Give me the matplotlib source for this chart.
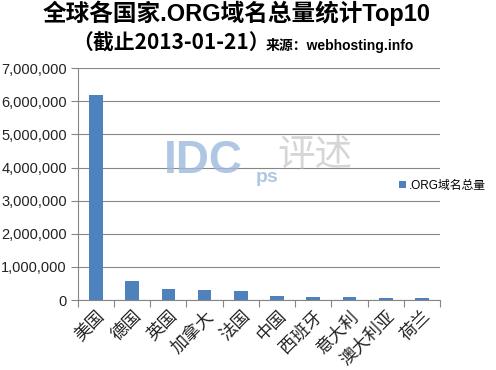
import matplotlib.pyplot as plt
from matplotlib.ticker import FuncFormatter

plt.rcParams['font.family'] = ['Liberation Sans', 'Noto Sans CJK SC', 'DejaVu Sans']

# Data
countries = ["美国", "德国", "英国", "加拿大", "法国", "中国", "西班牙", "意大利", "澳大利亚", "荷兰"]
org_domains = [6200000, 575000, 335000, 300000, 270000, 120000, 90000, 90000, 60000, 60000]
y_ticks = [0, 1000000, 2000000, 3000000, 4000000, 5000000, 6000000, 7000000]
series_name = ".ORG域名总量"

fig = plt.figure(figsize=(4.96, 3.70), dpi=100)
ax = fig.add_axes([0.157, 0.189, 0.73, 0.627])

bar_color = "#4F81BD"
ax.bar(range(len(countries)), org_domains, width=0.38, color=bar_color, zorder=3, label=series_name)

ax.set_xlim(-0.5, len(countries) - 0.5)
ax.set_ylim(0, 7000000)
ax.set_yticks(y_ticks)
ax.yaxis.set_major_formatter(FuncFormatter(lambda v, p: f"{int(v):,}"))
ax.grid(axis="y", color="#868686", linewidth=0.8, zorder=0)

# category ticks sit between the bars
ax.set_xticks([i - 0.5 for i in range(len(countries) + 1)])
ax.set_xticklabels([])
ax.set_xticks(range(len(countries)), minor=True)
ax.set_xticklabels(countries, minor=True, rotation=45, ha="right", rotation_mode="anchor",
                   fontsize=12.5, family=["Noto Sans CJK SC"], color="#222222")
ax.tick_params(axis="x", which="minor", length=0, pad=5)
ax.tick_params(axis="x", which="major", length=5, color="#868686")
ax.tick_params(axis="y", length=5, color="#868686", labelsize=10.5, pad=3, labelcolor="#222222")

for side in ["top", "right"]:
    ax.spines[side].set_visible(False)
for side in ["left", "bottom"]:
    ax.spines[side].set_color("#868686")

# title
fig.text(0.478, 0.963, "全球各国家.ORG域名总量统计Top10", ha="center", va="center",
         fontsize=17, fontweight="bold", family=["Liberation Sans", "Noto Sans CJK SC"])
fig.text(0.145, 0.882, "（截止2013-01-21）", ha="left", va="center",
         fontsize=15, fontweight="bold", family=["Noto Sans CJK SC"])
fig.text(0.535, 0.878, "来源：webhosting.info", ha="left", va="center",
         fontsize=10, fontweight="bold", family=["Liberation Sans", "Noto Sans CJK SC"])

# watermark
fig.text(0.33, 0.565, "IDC", ha="left", va="center", fontsize=33, fontweight="bold",
         color="#9DB9DC", alpha=0.8)
fig.text(0.515, 0.52, "ps", ha="left", va="center", fontsize=14, fontweight="bold",
         color="#9DB9DC", alpha=0.8)
fig.text(0.56, 0.58, "评述", ha="left", va="center", fontsize=27,
         color="#BBBBBB", alpha=0.6, family=["Noto Sans CJK SC"])

leg = fig.legend(loc="center left", bbox_to_anchor=(0.805, 0.497), frameon=False,
                 handlelength=0.55, handleheight=0.55, handletextpad=0.25, borderaxespad=0,
                 borderpad=0, prop={"family": ["Liberation Sans", "Noto Sans CJK SC"], "size": 8.5})

fig.savefig("out.png", dpi=100, facecolor="white")
